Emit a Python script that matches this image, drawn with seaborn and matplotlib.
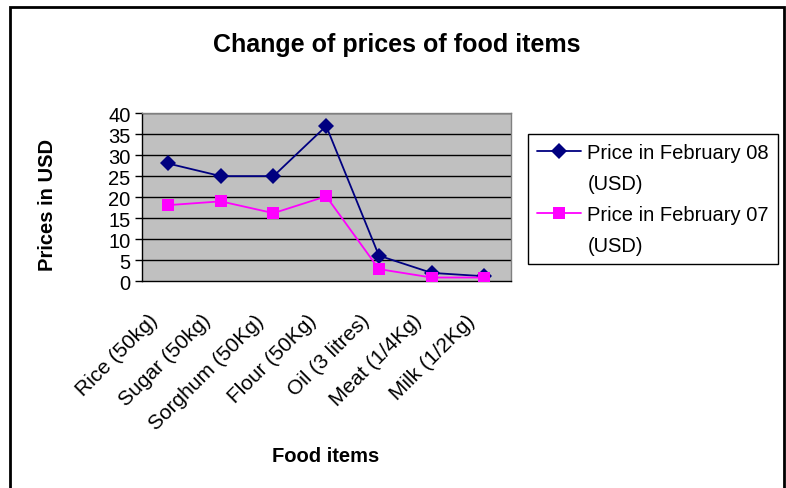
import matplotlib
matplotlib.use("Agg")
import matplotlib.pyplot as plt
import matplotlib.transforms as mtransforms
from matplotlib.lines import Line2D
import seaborn as sns
import pandas as pd
import numpy as np
from matplotlib.patches import Rectangle

categories = ["Rice (50kg)", "Sugar (50kg)", "Sorghum (50Kg)", "Flour (50Kg)",
              "Oil (3 litres)", "Meat (1/4Kg)", "Milk (1/2Kg)"]
price_feb08 = [28, 25, 25, 36.9, 6.1, 2.0, 1.2]
price_feb07 = [18.1, 19.0, 16.2, 20.2, 2.9, 0.9, 0.9]
series_names = ["Price in February 08", "Price in February 07"]
unit_label = "(USD)"
y_ticks = [0, 5, 10, 15, 20, 25, 30, 35, 40]

df = pd.DataFrame({
    "pos": list(range(len(categories))) * 2,
    "price": price_feb08 + price_feb07,
    "series": [series_names[0]] * len(categories) + [series_names[1]] * len(categories),
})

sns.set_style("white")
plt.rcParams["font.family"] = ["Liberation Sans", "DejaVu Sans"]
plt.rcParams["text.color"] = "black"
plt.rcParams["axes.labelcolor"] = "black"
plt.rcParams["xtick.color"] = "black"
plt.rcParams["ytick.color"] = "black"

W, H = 786, 489
fig = plt.figure(figsize=(W / 100, H / 100), dpi=100)
ax = fig.add_axes([141.7 / W, 1 - 282.3 / H, (510.7 - 141.7) / W, (282.3 - 114) / H])
ax.set_facecolor("#C0C0C0")

sns.lineplot(data=df, x="pos", y="price", hue="series", style="series",
             palette=["#000080", "#FF00FF"], markers=["D", "s"], dashes=False,
             markersize=8, linewidth=1.3, markeredgewidth=0, ax=ax, zorder=3)

ax.set_xlim(-0.5, len(categories) - 0.5)
ax.set_ylim(0, 40)
ax.set_yticks(y_ticks)
ax.set_yticklabels([str(v) for v in y_ticks], fontsize=14.5)
for v in y_ticks[1:]:
    ax.axhline(v, color="black", linewidth=1, zorder=1)

ax.set_xticks(range(len(categories)))
ax.set_xticklabels(categories, rotation=45, ha="right", va="top",
                   rotation_mode="default", fontsize=15)
ax.tick_params(axis="x", which="major", length=0, pad=21)
shift = mtransforms.ScaledTranslation(-6 / 100, 0, fig.dpi_scale_trans)
for lab in ax.get_xticklabels():
    lab.set_transform(lab.get_transform() + shift)
ax.set_xticks(np.arange(-0.5, len(categories), 1.0), minor=True)
ax.tick_params(axis="x", which="minor", length=5, width=1, color="black", direction="out")
ax.tick_params(axis="y", which="major", length=5, width=1, color="black", direction="out", pad=3, left=True)

for side in ["top", "right"]:
    ax.spines[side].set_color("#808080")
    ax.spines[side].set_linewidth(1)
for side in ["left", "bottom"]:
    ax.spines[side].set_color("black")
    ax.spines[side].set_linewidth(1)

ax.set_xlabel("Food items", fontsize=14.5, fontweight="bold", labelpad=0)
ax.xaxis.set_label_coords((326 - 141.7) / (510.7 - 141.7), -(447 - 282.3) / (282.3 - 114))
ax.set_ylabel("Prices in USD", fontsize=14.5, fontweight="bold")
ax.yaxis.set_label_coords(-(141.7 - 57) / (510.7 - 141.7), 1 - (205 - 114) / (282.3 - 114))

fig.text(397 / W, 1 - 45 / H, "Change of prices of food items", ha="center", va="center",
         fontsize=18, fontweight="bold")

handles, labels = ax.get_legend_handles_labels()
ax.get_legend().remove()
blank = Line2D([], [], linestyle="none", marker=None)
leg_handles = [handles[0], blank, handles[1], blank]
leg_labels = [labels[0], unit_label, labels[1], unit_label]
leg = fig.legend(leg_handles, leg_labels, loc="upper left",
                 bbox_to_anchor=(528 / W, 1 - 135 / H), fontsize=14.5,
                 frameon=True, fancybox=False, edgecolor="black", framealpha=1,
                 handlelength=2.2, handletextpad=0.3, borderpad=0.45,
                 labelspacing=0.6, borderaxespad=0)
leg.get_frame().set_linewidth(1)

fig.patches.append(Rectangle((10 / W, -0.1), (784 - 10) / W, 1.1 - 8 / H,
                             transform=fig.transFigure, fill=False,
                             edgecolor="black", linewidth=2))

fig.savefig("out.png", dpi=100, facecolor="white")
